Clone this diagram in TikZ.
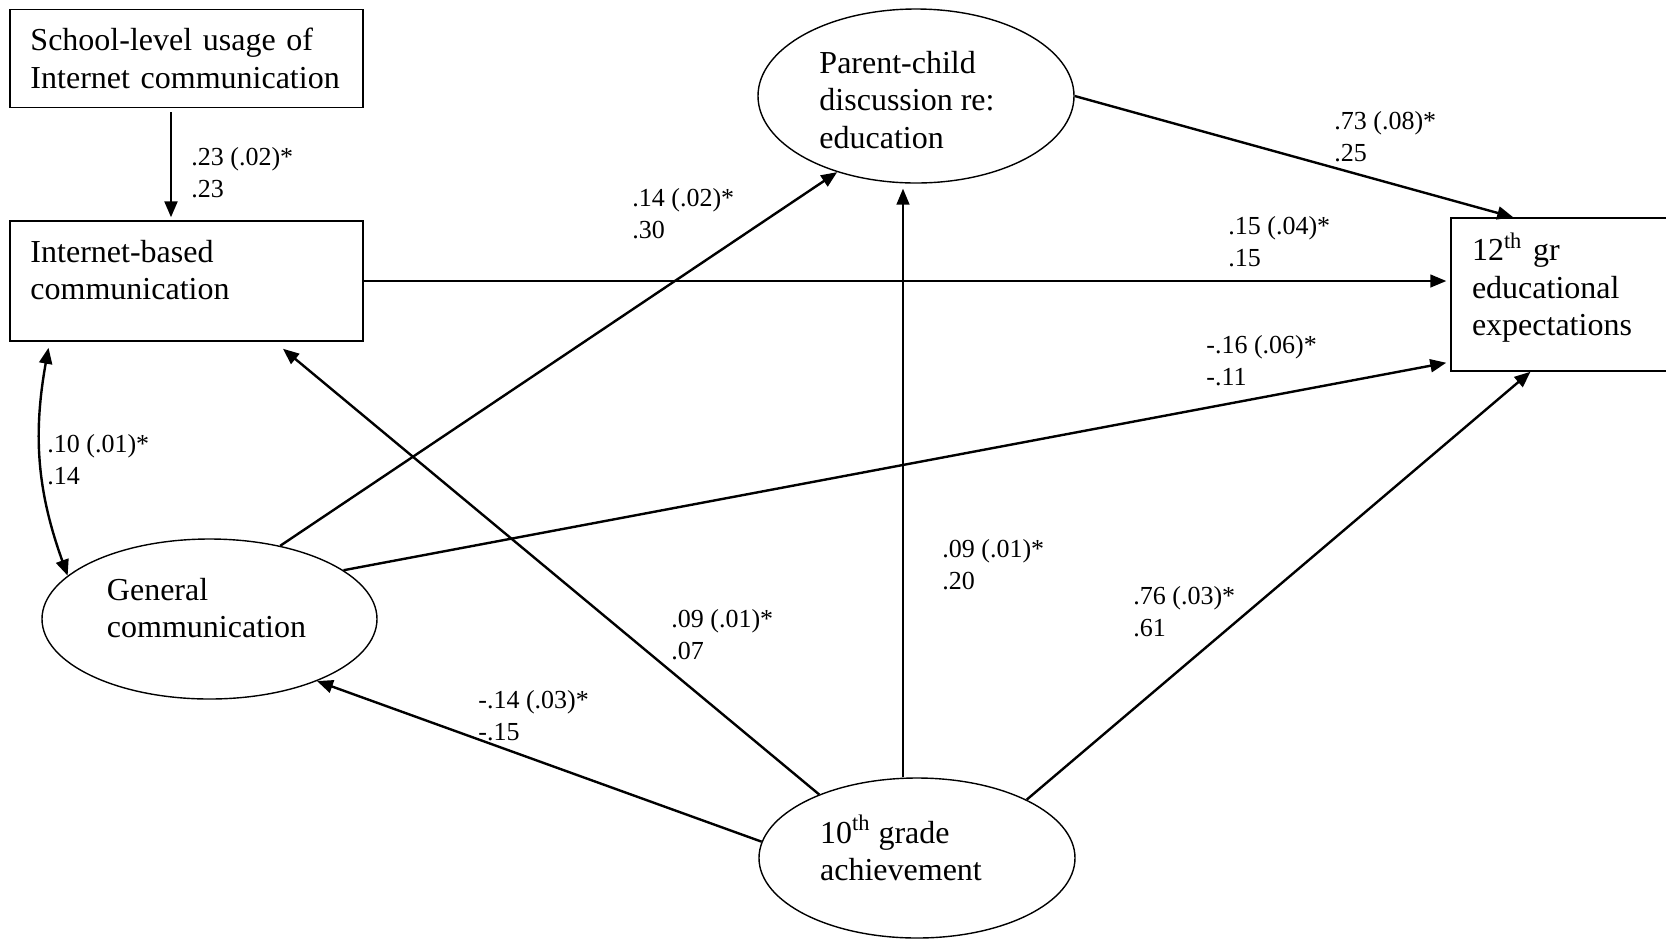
\documentclass[tikz,border=0pt]{standalone}
\usepackage{fontspec}
\setmainfont{Liberation Serif}
\usetikzlibrary{arrows.meta,positioning,shapes.geometric}

\begin{document}
\begin{tikzpicture}[
    x=0.5pt, y=-0.5pt,
    box/.style={rectangle, draw, line width=0.75pt, align=left, inner xsep=10pt, text width=156pt, minimum width=176.5pt, font=\fontsize{16}{18.75}\selectfont},
    latent/.style={ellipse, draw, line width=0.7pt, align=left, inner sep=2pt, font=\fontsize{16}{18.75}\selectfont},
    arrow/.style={-{Triangle[length=8pt, width=6.5pt]}, line width=1.2pt},
    thinarrow/.style={arrow, line width=0.75pt},
    biarrow/.style={{Triangle[length=8pt, width=6.5pt]}-{Triangle[length=8pt, width=6.5pt]}, line width=1.2pt},
    coef/.style={anchor=west, align=left, inner sep=0pt, font=\fontsize{13}{16}\selectfont}
]
    \useasboundingbox (0,0) rectangle (1666,939);

    % observed variables
    \node[box, minimum height=49pt] (school) at (186.5,58.5) {School-level usage of\\Internet communication};
    \node[box, minimum height=60pt] (inet) at (186.5,281) {Internet-based\\communication\rule[-11pt]{0pt}{11pt}};
    \node[box, text width=98.5pt, minimum width=119.5pt, minimum height=76.5pt] (grade12) at (1570.5,294.5) {12\textsuperscript{th} gr\\educational\\expectations\rule[-10.5pt]{0pt}{10.5pt}};

    % latent variables
    \node[latent, minimum width=158pt, minimum height=87pt] (talk) at (916,96) {\rule{0pt}{15pt}Parent-child\\discussion re:\rule{9pt}{0pt}\\education};
    \node[latent, minimum width=167.5pt, minimum height=80pt] (gen) at (209.5,619) {General\\communication\rule{3pt}{0pt}\rule[-11pt]{0pt}{11pt}};
    \node[latent, minimum width=158pt, minimum height=80pt] (ach) at (917,858) {10\textsuperscript{th} grade\\achievement\rule{16pt}{0pt}\rule[-10pt]{0pt}{10pt}};

    % paths
    \draw[arrow] ([shift={(-15.5,4)}]school.south) -- ([shift={(-15.5,-3)}]inet.north);
    \draw[thinarrow, shorten >=2pt] (inet.east) -- (inet.east -| grade12.west);
    \draw[arrow] (talk.east) -- ([xshift=31.5pt]grade12.north west);
    \draw[arrow] (gen.46.8) -- (talk.224.3);
    \draw[arrow] (gen.20.2) -- ([shift={(-4,-9)}]grade12.south west);
    \draw[arrow] (ach.147.5) -- ([shift={(96.5,7)}]inet.south);
    \draw[arrow] (ach.174.5) -- (gen.330);
    \draw[thinarrow] ([xshift=-7pt]ach.north) -- ([shift={(-13,5)}]talk.south);
    \draw[arrow] (ach.28.6) -- ([xshift=-20pt]grade12.south);
    \draw[biarrow] ([shift={(-138,6)}]inet.south) to[bend right=15] (gen.163);

    % estimates
    \node[coef] (cSchool) at (191,173) {.23 (.02)*\\.23};
    \node[coef] (cTalk) at (1334,137) {.73 (.08)*\\.25};
    \node[coef] (cInet) at (1228,242) {.15 (.04)*\\.15};
    \node[coef] (cGen) at (1206,361) {-.16 (.06)*\\-.11};
    \node[coef] (cGenTalk) at (632,214) {.14 (.02)*\\.30};
    \node[coef] (cCov) at (47,460) {.10 (.01)*\\.14};
    \node[coef] (cAchTalk) at (942,565) {.09 (.01)*\\.20};
    \node[coef] (cAch) at (1133,612) {.76 (.03)*\\.61};
    \node[coef] (cAchInet) at (671,635) {.09 (.01)*\\.07};
    \node[coef] (cAchGen) at (478,716) {-.14 (.03)*\\-.15};
\end{tikzpicture}
\end{document}
